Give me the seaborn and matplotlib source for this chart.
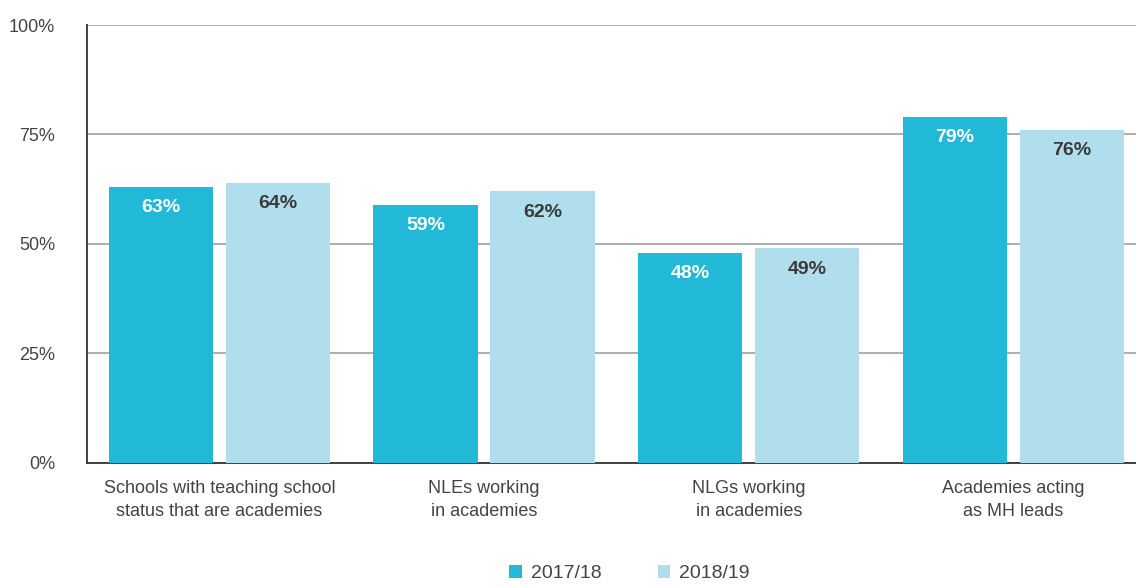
import matplotlib
matplotlib.use("Agg")
import matplotlib.pyplot as plt
import seaborn as sns
import pandas as pd
from matplotlib.patches import Patch

categories = ["Schools with teaching school\nstatus that are academies",
              "NLEs working\nin academies",
              "NLGs working\nin academies",
              "Academies acting\nas MH leads"]
years = ["2017/18", "2018/19"]
values_2017 = [63, 59, 48, 79]
values_2018 = [64, 62, 49, 76]
yticks = [0, 25, 50, 75, 100]
ytick_labels = ["0%", "25%", "50%", "75%", "100%"]
colors = ["#22B8D8", "#B0DEEC"]

df = pd.DataFrame({
    "category": categories * 2,
    "year": [years[0]] * 4 + [years[1]] * 4,
    "value": values_2017 + values_2018,
})

sns.set_style("white")
plt.rcParams["font.family"] = ["Liberation Sans", "DejaVu Sans"]

fig = plt.figure(figsize=(11.36, 5.87), dpi=100)
ax = fig.add_axes([0.0766, 0.2113, 0.9234, 0.7461])

sns.barplot(data=df, x="category", y="value", hue="year", order=categories,
            hue_order=years, palette=colors, width=0.884, gap=0.11,
            saturation=1, legend=False, ax=ax, zorder=3, edgecolor="none")

ax.set_ylim(0, 100)
ax.set_xlim(-0.5, 3.463)
ax.set_yticks(yticks)
ax.set_yticklabels(ytick_labels)
ax.yaxis.grid(True, color="#A0A0A0", linewidth=1.2, zorder=0)
ax.set_axisbelow(True)
ax.set_xlabel("")
ax.set_ylabel("")
for s in ["top", "right"]:
    ax.spines[s].set_visible(False)
for s in ["left", "bottom"]:
    ax.spines[s].set_color("#333333")
    ax.spines[s].set_linewidth(1.3)
ax.tick_params(axis="y", length=0, pad=23, labelsize=13, labelcolor="#444444")
ax.tick_params(axis="x", length=0, pad=12.5, labelsize=13, labelcolor="#444444")
for lbl in ax.get_xticklabels():
    lbl.set_linespacing(1.45)

label_colors = ["white", "#3A3A3A"]
for cont, lc in zip(ax.containers, label_colors):
    ax.bar_label(cont, labels=[f"{int(round(b.get_height()))}%" for b in cont],
                 padding=-21, color=lc, fontsize=14, fontweight="bold")

handles = [Patch(facecolor=c, edgecolor="none") for c in colors]
fig.legend(handles, years, loc="lower center", bbox_to_anchor=(0.554, -0.022),
           ncol=2, frameon=False, handlelength=0.65, handleheight=0.65,
           handletextpad=0.45, columnspacing=2.9, fontsize=14,
           labelcolor="#444444")

fig.savefig("out.png", dpi=100)
